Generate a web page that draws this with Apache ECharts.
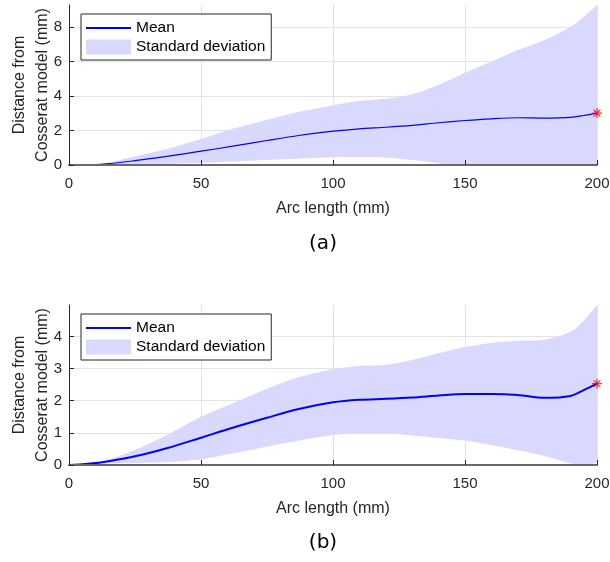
<!DOCTYPE html>
<html>
<head>
<meta charset="utf-8">
<script src="https://cdn.jsdelivr.net/npm/echarts@6/dist/echarts.min.js"></script>
<style>
  html, body { margin: 0; padding: 0; background: #fff; }
  #a, #b { position: absolute; left: 0; width: 610px; height: 281px; }
  #a { top: 0; }
  #b { top: 281px; }
</style>
</head>
<body>
<div id="a"></div>
<div id="b"></div>
<script>
// ---- data ----
const arcLength = [0, 12, 25, 37, 50, 62, 75, 87, 100, 110, 120, 130, 140, 150, 160, 170, 180, 190, 195, 200];

const meanA  = [0, 0.04, 0.25, 0.5, 0.8, 1.09, 1.42, 1.71, 1.96, 2.1, 2.19, 2.3, 2.45, 2.58, 2.68, 2.74, 2.72, 2.76, 2.87, 3.01];
const upperA = [0, 0.06, 0.5, 0.93, 1.51, 2.1, 2.62, 3.07, 3.46, 3.71, 3.84, 4.1, 4.65, 5.35, 6.0, 6.66, 7.24, 8.02, 8.6, 9.28];
const lowerA = [0, 0.02, 0.03, 0.07, 0.12, 0.2, 0.29, 0.37, 0.45, 0.47, 0.43, 0.29, 0.1, -0.2, -0.65, -1.18, -1.8, -2.5, -2.86, -3.26];

const meanB  = [0, 0.08, 0.27, 0.52, 0.85, 1.16, 1.47, 1.74, 1.95, 2.03, 2.06, 2.1, 2.16, 2.21, 2.21, 2.18, 2.09, 2.15, 2.33, 2.53];
const upperB = [0, 0.1, 0.47, 0.93, 1.5, 1.92, 2.37, 2.73, 2.98, 3.08, 3.12, 3.27, 3.48, 3.67, 3.8, 3.87, 3.9, 4.15, 4.5, 4.98];
const lowerB = [0, 0.04, 0.06, 0.09, 0.18, 0.36, 0.57, 0.76, 0.93, 0.99, 0.99, 0.92, 0.84, 0.76, 0.62, 0.46, 0.28, 0.05, -0.02, 0.08];

const xTicks  = [0, 50, 100, 150, 200];
const yTicksA = [0, 2, 4, 6, 8];
const yTicksB = [0, 1, 2, 3, 4];

const seriesNames = ['Mean', 'Standard deviation'];
const xName = 'Arc length (mm)';
const yName = 'Distance from\nCosserat model (mm)';
const captions = ['(a)', '(b)'];

// ---- styling ----
const FONT = '"Liberation Sans", Arial, Helvetica, sans-serif';
const AX = '#262626';
const GRIDC = '#e3e3e3';
const BAND = '#d9d9ff';
const STAR = 'path://M5,0L5,10M0,5L10,5M1.6,1.6L8.4,8.4M8.4,1.6L1.6,8.4';

// Catmull-Rom densification of pixel points (for a smooth band outline)
function smoothPts(pts, steps) {
  const out = [];
  const n = pts.length;
  for (let i = 0; i < n - 1; i++) {
    const p0 = pts[Math.max(i - 1, 0)], p1 = pts[i], p2 = pts[i + 1], p3 = pts[Math.min(i + 2, n - 1)];
    for (let s = 0; s < steps; s++) {
      const t = s / steps, t2 = t * t, t3 = t2 * t;
      const f = k => 0.5 * ((2 * p1[k]) + (-p0[k] + p2[k]) * t +
        (2 * p0[k] - 5 * p1[k] + 4 * p2[k] - p3[k]) * t2 +
        (-p0[k] + 3 * p1[k] - 3 * p2[k] + p3[k]) * t3);
      out.push([f(0), f(1)]);
    }
  }
  out.push(pts[n - 1]);
  return out;
}

function makeOption(cfg) {
  const pairs = v => arcLength.map((x, i) => [x, v[i]]);
  const yMax = Math.max(...cfg.upper);
  const yInt = cfg.yTicks[1] - cfg.yTicks[0];
  const xInt = xTicks[1] - xTicks[0];
  const last = arcLength.length - 1;
  return {
    animation: false,
    title: {
      text: cfg.caption, left: 318, top: cfg.capTop, textAlign: 'center',
      textStyle: { fontFamily: '"DejaVu Sans", sans-serif', fontSize: 20, fontWeight: 'normal', color: '#000' }
    },
    grid: { left: 69, right: 13, top: cfg.gridTop, height: 160, containLabel: false, outerBoundsMode: 'none' },
    legend: {
      left: 81, top: cfg.legendTop, orient: 'vertical',
      backgroundColor: '#fff', borderColor: AX, borderWidth: 1, borderRadius: 0,
      padding: [6, 6, 5, 4], itemGap: 3, itemWidth: 45, itemHeight: 15,
      selectedMode: false,
      textStyle: { fontFamily: FONT, fontSize: 15.5, color: '#000' },
      data: [
        { name: seriesNames[0], itemStyle: { opacity: 0 } },
        { name: seriesNames[1], icon: 'rect', itemStyle: { color: BAND } }
      ]
    },
    xAxis: [
      { type: 'value', min: xTicks[0], max: xTicks[xTicks.length - 1], interval: xInt, position: 'bottom', z: 0,
        axisLine: { show: false }, axisTick: { show: false }, axisLabel: { show: false },
        splitLine: { show: true, lineStyle: { color: GRIDC, width: 1 } } },
      { type: 'value', min: xTicks[0], max: xTicks[xTicks.length - 1], interval: xInt, position: 'bottom', offset: 0, z: 10,
        axisLine: { show: true, onZero: false, lineStyle: { color: '#6a6a6a', width: 2 } },
        axisTick: { show: true, inside: true, length: 5, lineStyle: { color: AX } },
        axisLabel: { margin: 11, fontSize: 15, color: AX, fontFamily: FONT },
        splitLine: { show: false },
        name: xName, nameLocation: 'middle', nameGap: 36, nameMoveOverlap: false,
        nameTextStyle: { fontFamily: FONT, fontSize: 16, color: AX } }
    ],
    yAxis: [
      { type: 'value', min: 0, max: yMax, interval: yInt, position: 'left', z: 0,
        axisLine: { show: false }, axisTick: { show: false }, axisLabel: { show: false },
        splitLine: { show: true, showMaxLine: false, lineStyle: { color: GRIDC, width: 1 } } },
      { type: 'value', min: 0, max: yMax, interval: yInt, position: 'left', offset: 0, z: 10,
        axisLine: { show: true, onZero: false, lineStyle: { color: AX, width: 1 } },
        axisTick: { show: true, inside: true, length: 5, customValues: cfg.yTicks, lineStyle: { color: AX } },
        axisLabel: { margin: 7, fontSize: 15, color: AX, fontFamily: FONT, customValues: cfg.yTicks },
        splitLine: { show: false },
        name: yName, nameLocation: 'middle', nameGap: 15, nameRotate: 90, nameMoveOverlap: false,
        nameTextStyle: { fontFamily: FONT, fontSize: 16, color: AX, lineHeight: 23 } }
    ],
    series: [
      { name: seriesNames[1], type: 'custom', xAxisIndex: 0, yAxisIndex: 0, clip: true, silent: true,
        itemStyle: { color: BAND },
        data: arcLength.map((x, i) => [x, cfg.upper[i], cfg.lower[i]]),
        encode: { x: 0, y: [1, 2] },
        renderItem: function (params, api) {
          if (params.dataIndex !== 0) return null;
          const up = smoothPts(arcLength.map((x, i) => api.coord([x, cfg.upper[i]])), 10);
          const lo = smoothPts(arcLength.map((x, i) => api.coord([x, cfg.lower[i]])), 10);
          const pts = up.concat(lo.reverse());
          return { type: 'polygon', shape: { points: pts }, style: { fill: BAND, stroke: null } };
        } },
      { name: seriesNames[0], type: 'line', data: pairs(cfg.mean),
        xAxisIndex: 0, yAxisIndex: 0, symbol: 'none', smooth: 0.3, color: '#0000ff',
        lineStyle: { color: '#0000ff', width: cfg.lineW } },
      { name: 'end', type: 'scatter', data: [[arcLength[last], cfg.mean[last]]],
        xAxisIndex: 0, yAxisIndex: 0, symbol: STAR, symbolSize: 10, clip: false, z: 5,
        itemStyle: { color: 'rgba(0,0,0,0)', borderColor: '#ff0000', borderWidth: 1.2 } }
    ]
  };
}

const chartA = echarts.init(document.getElementById('a'), null, { renderer: 'canvas' });
chartA.setOption(makeOption({
  mean: meanA, upper: upperA, lower: lowerA, yTicks: yTicksA, lineW: 1.2,
  gridTop: 5, legendTop: 14, caption: captions[0], capTop: 229
}));

const chartB = echarts.init(document.getElementById('b'), null, { renderer: 'canvas' });
chartB.setOption(makeOption({
  mean: meanB, upper: upperB, lower: lowerB, yTicks: yTicksB, lineW: 2,
  gridTop: 24, legendTop: 33, caption: captions[1], capTop: 247
}));
</script>
</body>
</html>
